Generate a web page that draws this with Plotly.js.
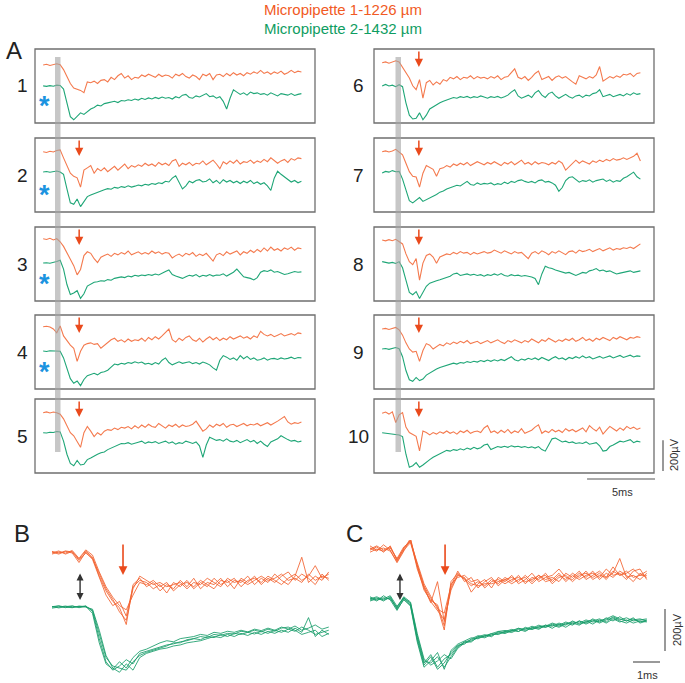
<!DOCTYPE html>
<html><head><meta charset="utf-8">
<script src="https://cdn.plot.ly/plotly-3.0.1.min.js"></script>
<style>html,body{margin:0;padding:0;background:#fff}#chart{width:685px;height:683px}</style>
</head><body><div id="chart"></div>
<script>
// ---------- DATA (µV relative to pre-stimulus baseline) ----------
// Panel A: samples every 0.25 ms from 0 ms
const A_DT = 0.25;
const P1_ORANGE=[0,5,-3,4,8,2,-30,-75,-120,-150,-155,-165,-180,-110,-115,-105,-120,-100,-95,-110,-80,-95,-70,-55,-85,-70,-95,-80,-85,-65,-75,-60,-70,-80,-60,-75,-65,-70,-85,-60,-70,-55,-75,-85,-65,-75,-95,-60,-70,-55,-95,-65,-60,-75,-55,-70,-50,-65,-55,-70,-50,-60,-45,-55,-35,-55,-45,-60,-45,-55,-40,-60,-50,-35,-50,-40,-45];
const P1_GREEN=[0,-3,2,-2,5,3,-20,-120,-200,-220,-200,-175,-185,-165,-150,-140,-125,-130,-115,-110,-105,-100,-108,-95,-98,-90,-95,-85,-92,-80,-88,-78,-85,-75,-82,-72,-80,-75,-85,-70,-78,-60,-55,-75,-80,-65,-72,-60,-50,-70,-65,-80,-70,-100,-150,-80,-25,-40,-55,-45,-60,-40,-50,-45,-55,-50,-60,-45,-55,-65,-50,-55,-60,-50,-62,-55,-50];
const P2_ORANGE=[0,-5,3,-2,8,12,-40,-95,-140,-160,-170,-230,-120,-105,-90,-140,-110,-125,-105,-130,-110,-95,-120,-100,-80,-110,-90,-100,-85,-95,-75,-90,-80,-95,-70,-85,-75,-90,-60,-50,-95,-75,-85,-70,-90,-75,-80,-60,-85,-70,-55,-80,-110,-65,-80,-60,-75,-55,-80,-65,-70,-55,-75,-60,-70,-50,-65,-40,-55,-75,-60,-50,-70,-45,-55,-40,-45];
const P2_GREEN=[0,3,-2,2,6,0,-15,-110,-200,-210,-175,-225,-195,-160,-150,-140,-130,-120,-115,-108,-112,-100,-105,-95,-100,-90,-98,-92,-85,-90,-80,-85,-75,-80,-70,-75,-60,-65,-40,-25,-70,-110,-90,-60,-70,-55,-50,-65,-60,-45,-70,-55,-75,-50,-65,-55,-70,-60,-75,-60,-70,-55,-75,-65,-80,-70,-90,-120,-40,5,-15,-30,-45,-65,-55,-70,-60];
const P3_ORANGE=[0,-5,3,-8,0,-20,-50,-95,-130,-175,-235,-200,-110,-85,-95,-130,-155,-120,-110,-100,-115,-95,-105,-90,-100,-80,-105,-95,-85,-100,-90,-100,-80,-95,-85,-100,-90,-95,-125,-110,-100,-115,-95,-105,-90,-115,-100,-110,-95,-120,-145,-105,-95,-110,-85,-100,-90,-80,-105,-85,-95,-75,-90,-70,-85,-60,-80,-55,-75,-65,-80,-60,-70,-55,-75,-60,-65];
const P3_GREEN=[0,2,-2,3,10,18,-40,-140,-205,-195,-180,-230,-200,-150,-135,-125,-122,-115,-118,-108,-112,-100,-95,-90,-95,-85,-90,-80,-85,-78,-82,-75,-80,-72,-78,-65,-55,-45,-75,-85,-95,-100,-90,-80,-85,-75,-90,-80,-85,-75,-85,-78,-80,-70,-85,-72,-60,-40,-65,-90,-95,-100,-110,-95,-60,-50,-55,-45,-60,-55,-65,-75,-70,-60,-55,-60,-58];
const P4_ORANGE=[0,3,-2,-15,-40,5,-60,-90,-120,-140,-225,-160,-120,-110,-105,-115,-110,-140,-120,-100,-85,-75,-95,-85,-100,-80,-95,-85,-90,-75,-95,-70,-85,-65,-80,-60,-35,-15,-85,-100,-75,-90,-70,-60,-85,-95,-75,-100,-80,-65,-85,-70,-90,-75,-85,-65,-80,-70,-60,-75,-65,-80,-60,-70,-30,-50,-60,-50,-65,-55,-45,-60,-50,-45,-55,-40,-45];
const P4_GREEN=[0,-3,2,0,-4,-2,-45,-110,-180,-210,-195,-225,-185,-160,-150,-145,-155,-140,-135,-125,-105,-85,-90,-80,-85,-75,-80,-70,-78,-72,-85,-80,-88,-75,-85,-60,-45,-75,-90,-80,-70,-80,-75,-70,-82,-75,-85,-72,-80,-90,-110,-125,-60,-30,-40,-55,-45,-60,-30,-50,-35,-55,-45,-60,-55,-45,-60,-50,-48,-55,-45,-52,-48,-40,-50,-42,-45];
const P5_ORANGE=[0,5,-2,4,0,-10,-40,-80,-130,-150,-185,-225,-130,-90,-120,-155,-130,-145,-120,-110,-115,-100,-110,-95,-100,-90,-105,-85,-100,-80,-95,-75,-90,-95,-70,-85,-100,-80,-90,-75,-95,-80,-90,-85,-75,-55,-90,-120,-105,-80,-95,-75,-85,-70,-95,-80,-75,-90,-80,-70,-85,-75,-80,-70,-85,-75,-65,-80,-70,-55,-40,-25,-60,-75,-65,-70,-60];
const P5_GREEN=[0,-2,3,1,8,5,-55,-140,-200,-215,-180,-210,-205,-175,-165,-150,-140,-130,-125,-110,-100,-90,-80,-70,-72,-65,-75,-70,-62,-55,-70,-60,-65,-58,-70,-62,-55,-68,-60,-75,-65,-70,-55,-62,-70,-60,-85,-160,-80,-30,-40,-50,-45,-55,-40,-55,-60,-50,-65,-55,-45,-60,-50,-70,-55,-75,-90,-60,-50,-40,-20,-35,-45,-55,-50,-60,-55];
const P6_ORANGE=[0,5,-3,2,12,5,-30,-60,-100,-150,-175,-110,-230,-130,-115,-145,-125,-140,-110,-120,-95,-105,-90,-110,-95,-100,-85,-105,-90,-100,-95,-105,-90,-100,-85,-110,-95,-90,-65,-40,-95,-105,-90,-115,-95,-70,-55,-110,-100,-90,-115,-95,-85,-100,-90,-110,-125,-140,-85,-95,-105,-90,-100,-80,-25,-120,-105,-90,-100,-85,-95,-75,-80,-70,-90,-70,-65];
const P6_GREEN=[0,10,0,5,-5,8,-5,-110,-190,-215,-210,-175,-220,-190,-150,-135,-120,-110,-100,-90,-85,-75,-80,-70,-75,-68,-78,-70,-75,-65,-72,-80,-70,-75,-68,-78,-70,-60,-40,-25,-65,-80,-70,-60,-75,-45,-30,-60,-75,-50,-40,-65,-80,-70,-55,-70,-80,-65,-60,-75,-60,-65,-50,-45,-25,-70,-60,-55,-70,-60,-55,-65,-50,-60,-45,-55,-50];
const P7_ORANGE=[0,5,-2,4,15,0,-20,-75,-130,-160,-165,-230,-140,-90,-100,-115,-160,-110,-105,-90,-100,-80,-90,-75,-85,-70,-90,-80,-65,-75,-85,-70,-80,-65,-75,-90,-70,-80,-65,-85,-70,-55,-80,-70,-85,-65,-80,-70,-75,-85,-70,-80,-60,-75,-120,-100,-80,-55,-75,-60,-70,-80,-60,-70,-55,-65,-50,-60,-45,-55,-50,-40,-50,-40,-30,-10,-60];
const P7_GREEN=[0,10,5,15,8,10,-40,-110,-180,-195,-175,-160,-185,-175,-165,-150,-140,-125,-118,-105,-98,-90,-80,-85,-70,-55,-75,-80,-65,-75,-68,-72,-65,-78,-70,-75,-60,-70,-55,-62,-50,-45,-55,-62,-55,-65,-50,-45,-60,-55,-65,-80,-120,-95,-50,-30,-25,-40,-60,-50,-55,-45,-60,-50,-45,-40,-55,-45,-60,-50,-55,-35,-25,-10,5,-25,-40];
const P8_ORANGE=[0,-5,3,-4,5,-10,-25,-90,-140,-160,-120,-260,-150,-100,-90,-110,-150,-110,-100,-90,-95,-80,-90,-75,-85,-80,-95,-80,-90,-85,-75,-85,-80,-65,-75,-85,-70,-80,-90,-75,-85,-80,-100,-120,-85,-75,-90,-70,-80,-95,-75,-85,-70,-80,-95,-75,-70,-85,-65,-75,-70,-60,-75,-65,-55,-70,-60,-50,-65,-55,-60,-50,-55,-45,-55,-40,-25];
const P8_GREEN=[0,-5,-10,-5,-12,0,-40,-120,-200,-215,-195,-240,-200,-160,-140,-130,-125,-118,-110,-100,-95,-80,-75,-90,-85,-80,-88,-82,-90,-85,-95,-85,-90,-80,-88,-78,-90,-95,-85,-92,-88,-95,-90,-95,-100,-110,-150,-80,-30,-40,-45,-55,-60,-65,-75,-70,-80,-90,-80,-70,-75,-60,-55,-45,-60,-55,-65,-60,-70,-80,-75,-70,-65,-60,-70,-65,-60];
const P9_ORANGE=[0,4,-3,5,10,-5,-40,-90,-130,-150,-145,-210,-140,-95,-105,-130,-115,-100,-110,-90,-100,-85,-95,-80,-90,-75,-95,-85,-80,-95,-85,-75,-90,-80,-70,-85,-95,-75,-85,-70,-80,-90,-75,-85,-65,-80,-90,-70,-80,-60,-75,-85,-70,-80,-65,-75,-60,-80,-70,-55,-75,-65,-80,-60,-70,-55,-65,-75,-55,-65,-50,-60,-70,-55,-60,-50,-55];
const P9_GREEN=[0,3,-2,5,10,2,-50,-140,-200,-210,-185,-205,-195,-170,-155,-140,-130,-120,-112,-105,-100,-92,-98,-88,-92,-82,-88,-80,-85,-75,-82,-72,-80,-70,-78,-68,-75,-60,-50,-70,-78,-65,-72,-60,-68,-58,-70,-55,-65,-75,-60,-50,-65,-58,-70,-55,-62,-50,-60,-45,-58,-50,-65,-55,-48,-60,-50,-45,-58,-50,-42,-55,-48,-40,-52,-45,-48];
const P10_ORANGE=[0,8,-5,10,-60,-10,5,-90,-125,-140,-150,-245,-115,-125,-140,-125,-135,-120,-130,-115,-130,-120,-135,-115,-125,-110,-130,-120,-115,-125,-95,-80,-125,-115,-130,-110,-125,-105,-130,-115,-125,-100,-130,-120,-110,-90,-75,-130,-115,-125,-105,-120,-110,-125,-100,-115,-105,-120,-110,-95,-120,-80,-100,-115,-90,-135,-110,-85,-100,-115,-95,-110,-85,-100,-90,-105,-95];
const P10_GREEN=[0,-3,-5,-8,-12,-15,-25,-140,-225,-215,-195,-225,-210,-190,-175,-160,-150,-135,-128,-115,-120,-110,-115,-105,-112,-100,-108,-95,-105,-98,-80,-75,-110,-100,-90,-95,-88,-95,-85,-92,-88,-95,-90,-98,-92,-100,-90,-110,-120,-80,-40,-35,-50,-60,-55,-65,-60,-70,-65,-70,-60,-75,-70,-65,-85,-120,-115,-90,-80,-70,-55,-60,-50,-45,-65,-55,-60];

// Panels B and C: overlaid sweeps, samples every 0.25 ms
const BC_DT = 0.25;
const B_ORANGE_1=[0,10,-5,8,-30,10,-20,-110,-180,-230,-260,-340,-150,-120,-160,-140,-180,-150,-170,-130,-160,-120,-170,-140,-150,-120,-160,-130,-140,-110,-150,-120,-140,-100,-130,-150,-110,-20,-140,-110,-130,-90];
const B_ORANGE_2=[5,-5,8,0,-45,5,-30,-120,-200,-250,-230,-300,-160,-130,-140,-170,-150,-190,-140,-160,-130,-170,-140,-160,-120,-150,-130,-170,-120,-140,-110,-150,-120,-140,-110,-90,-130,-100,-120,-150,-100,-130];
const B_ORANGE_3=[-5,5,0,12,-25,15,-10,-90,-160,-210,-250,-270,-200,-140,-150,-130,-160,-140,-180,-150,-140,-160,-130,-150,-170,-130,-140,-120,-160,-130,-120,-140,-110,-130,-150,-120,-100,-130,-110,-60,-120,-100];
const B_ORANGE_4=[8,0,10,5,-35,0,-25,-100,-170,-220,-280,-320,-170,-110,-130,-150,-140,-160,-150,-140,-170,-140,-150,-120,-140,-160,-120,-140,-130,-150,-130,-110,-130,-120,-100,-130,-120,-140,-100,-130,-110,-120];
const B_GREEN_1=[0,5,-3,4,0,6,-20,-150,-260,-300,-280,-250,-270,-220,-210,-200,-190,-180,-175,-165,-160,-150,-155,-140,-145,-130,-140,-125,-130,-120,-128,-115,-125,-110,-120,-105,-115,-95,-110,-130,-120,-110];
const B_GREEN_2=[-5,0,5,-2,3,0,-10,-110,-230,-290,-310,-270,-300,-240,-220,-210,-200,-195,-185,-180,-170,-165,-160,-150,-140,-145,-130,-140,-125,-135,-120,-130,-115,-125,-110,-120,-100,-120,-50,-140,-110,-130];
const B_GREEN_3=[3,-4,2,6,-3,4,-30,-170,-270,-295,-260,-290,-240,-210,-200,-185,-170,-160,-165,-150,-145,-140,-130,-135,-120,-125,-115,-120,-110,-118,-105,-112,-100,-110,-95,-105,-90,-110,-100,-85,-105,-95];
const B_GREEN_4=[2,6,0,-3,5,2,-15,-130,-240,-280,-290,-300,-260,-230,-215,-205,-195,-185,-170,-170,-155,-150,-140,-145,-130,-135,-125,-128,-115,-120,-110,-118,-105,-115,-100,-95,-110,-130,-120,-110,-140,-125];
const C_ORANGE_1=[0,15,-10,20,-50,10,45,-70,-170,-230,-270,-380,-150,-110,-140,-170,-150,-170,-140,-160,-130,-150,-120,-160,-130,-140,-110,-150,-120,-140,-110,-130,-100,-140,-120,-130,-110,-40,-130,-120,-140,-110];
const C_ORANGE_2=[10,-5,25,0,-60,-5,50,-90,-180,-250,-150,-340,-190,-120,-130,-200,-160,-140,-180,-130,-150,-120,-160,-140,-110,-150,-130,-120,-90,-130,-140,-110,-130,-100,-140,-110,-130,-100,-120,-150,-110,-130];
const C_ORANGE_3=[-10,5,-5,10,-40,15,40,-60,-160,-220,-280,-300,-170,-100,-150,-130,-180,-150,-130,-170,-140,-130,-150,-120,-150,-120,-140,-130,-150,-110,-130,-100,-140,-120,-100,-130,-80,-120,-100,-130,-120,-100];
const C_ORANGE_4=[20,0,10,-5,-55,0,35,-80,-190,-240,-260,-360,-160,-130,-120,-150,-140,-180,-150,-140,-160,-140,-130,-150,-140,-120,-150,-140,-110,-150,-120,-140,-120,-110,-130,-90,-120,-110,-140,-100,-90,-140];
const C_ORANGE_5=[5,20,0,15,-45,5,55,-75,-175,-245,-290,-330,-180,-115,-135,-160,-170,-160,-160,-150,-140,-160,-140,-130,-160,-130,-120,-160,-130,-120,-150,-120,-110,-130,-110,-140,-100,-120,-110,-90,-120,-120];
const C_GREEN_1=[0,10,-5,15,-40,10,-20,-180,-300,-260,-320,-280,-260,-220,-200,-190,-175,-180,-165,-160,-150,-155,-140,-150,-130,-140,-120,-135,-115,-130,-110,-120,-100,-115,-95,-110,-90,-105,-95,-110,-100,-105];
const C_GREEN_2=[10,-5,20,0,-50,5,-30,-200,-320,-290,-250,-330,-240,-210,-195,-180,-185,-170,-160,-165,-150,-140,-150,-135,-140,-125,-130,-115,-125,-110,-120,-100,-110,-90,-105,-85,-100,-80,-100,-90,-105,-95];
const C_GREEN_3=[-5,5,10,5,-35,15,-10,-160,-280,-310,-290,-260,-280,-230,-205,-195,-180,-170,-170,-155,-160,-145,-150,-130,-140,-130,-120,-125,-110,-120,-100,-115,-105,-95,-110,-95,-85,-100,-110,-95,-90,-100];
const C_GREEN_4=[5,15,0,10,-45,0,-25,-190,-310,-270,-330,-300,-250,-215,-210,-185,-170,-175,-160,-150,-155,-145,-135,-140,-125,-135,-125,-110,-120,-105,-115,-100,-115,-100,-90,-105,-80,-95,-85,-100,-95,-90];
const C_GREEN_5=[15,0,5,20,-30,10,-15,-170,-290,-300,-270,-320,-270,-225,-200,-200,-175,-165,-175,-150,-145,-150,-135,-145,-135,-120,-130,-120,-130,-115,-105,-110,-95,-105,-100,-90,-75,-90,-100,-85,-110,-100];

const PANEL_LABELS = ['1','2','3','4','5','6','7','8','9','10'];
const ORANGE_A = [P1_ORANGE,P2_ORANGE,P3_ORANGE,P4_ORANGE,P5_ORANGE,P6_ORANGE,P7_ORANGE,P8_ORANGE,P9_ORANGE,P10_ORANGE];
const GREEN_A  = [P1_GREEN,P2_GREEN,P3_GREEN,P4_GREEN,P5_GREEN,P6_GREEN,P7_GREEN,P8_GREEN,P9_GREEN,P10_GREEN];
const B_ORANGE = [B_ORANGE_1,B_ORANGE_2,B_ORANGE_3,B_ORANGE_4];
const B_GREEN  = [B_GREEN_1,B_GREEN_2,B_GREEN_3,B_GREEN_4];
const C_ORANGE = [C_ORANGE_1,C_ORANGE_2,C_ORANGE_3,C_ORANGE_4,C_ORANGE_5];
const C_GREEN  = [C_GREEN_1,C_GREEN_2,C_GREEN_3,C_GREEN_4,C_GREEN_5];

// ---------- LAYOUT / STYLE ----------
const W = 685, H = 683;
const px = v => v / W;
const py = v => 1 - v / H;
const COL_LEFT = [35, 374];
const BOX_TOP = [49, 138, 227, 315, 399];
const BOX_W = 280, BOX_H = 74;
const A_XR = [-0.6, 20.0], A_YR = [-331, 150];
// vertical placement of each trace (µV shift within its panel)
const A_SHIFT = [[46,-90],[61,-71],[74,-84],[74,-84],[61,-69],[61,-90],[61,-77],[65,-75],[59,-71],[57,-69]];
const COL_O_A = '#f47a4e', COL_G_A = '#1fa677';
const COL_O_BC = '#f2612f', COL_G_BC = '#179c6a';
const ARROW_RED = '#ea4a1c';
const FONT = 'Arial, "Liberation Sans", sans-serif';

const data = [], shapes = [], annotations = [];
const layout = {
  width: W, height: H, margin: {l:0, r:0, t:0, b:0},
  paper_bgcolor: '#fff', plot_bgcolor: 'rgba(0,0,0,0)',
  showlegend: false, shapes, annotations, font: {family: FONT}
};
const times = (arr, dt) => arr.map((_, i) => i * dt);
function axisName(n){ return n === 1 ? '' : String(n); }

for (let k = 0; k < 10; k++) {
  const n = k + 1, col = k < 5 ? 0 : 1, row = k % 5;
  const left = COL_LEFT[col], top = BOX_TOP[row];
  layout['xaxis' + axisName(n)] = {domain: [px(left), px(left + BOX_W)], range: A_XR, visible: false, fixedrange: true};
  layout['yaxis' + axisName(n)] = {domain: [py(top + BOX_H), py(top)], range: A_YR, visible: false, fixedrange: true};
  const ax = 'x' + axisName(n), ay = 'y' + axisName(n);
  data.push({x: times(ORANGE_A[k], A_DT), y: ORANGE_A[k].map(v => v + A_SHIFT[k][0]), xaxis: ax, yaxis: ay,
    mode: 'lines', line: {color: COL_O_A, width: 1.1}, hoverinfo: 'skip'});
  data.push({x: times(GREEN_A[k], A_DT), y: GREEN_A[k].map(v => v + A_SHIFT[k][1]), xaxis: ax, yaxis: ay,
    mode: 'lines', line: {color: COL_G_A, width: 1.1}, hoverinfo: 'skip'});
  shapes.push({type: 'rect', xref: 'paper', yref: 'paper', x0: px(left), x1: px(left + BOX_W), y0: py(top + BOX_H), y1: py(top),
    line: {color: '#6f6f6f', width: 1.3}, fillcolor: 'rgba(0,0,0,0)', layer: 'above'});
  annotations.push({xref: 'paper', yref: 'paper', x: px(col === 0 ? 22 : 358), y: py(top + 37), text: PANEL_LABELS[k],
    showarrow: false, xanchor: 'center', yanchor: 'middle', font: {size: 19, color: '#222', family: FONT}});
  if (k !== 0) {
    annotations.push({xref: ax, yref: 'paper', x: col === 0 ? 2.65 : 2.7, y: py(top + 18), ax: 0, ay: -17, text: '',
      showarrow: true, arrowhead: 2, arrowsize: 1.1, arrowwidth: 1.5, arrowcolor: ARROW_RED, standoff: 0});
  }
  if (k < 4) {
    annotations.push({xref: 'paper', yref: 'paper', x: px(44), y: py(top + 57), text: '<b>*</b>', showarrow: false,
      xanchor: 'center', yanchor: 'middle', font: {size: 27, color: '#1b93e0', family: FONT}});
  }
}
// grey stimulus-latency bars
[[55, 60.5], [395.5, 401]].forEach(([a, b]) => shapes.push({type: 'rect', xref: 'paper', yref: 'paper',
  x0: px(a), x1: px(b), y0: py(452), y1: py(57), line: {width: 0}, fillcolor: 'rgba(165,165,165,0.62)', layer: 'above'}));

// Panels B & C
const BC = [
  {n: 11, left: 38.5, orange: B_ORANGE, green: B_GREEN, shift: [-62, -319], arrowX: 2.63, dblX: 1.04},
  {n: 12, left: 356.5, orange: C_ORANGE, green: C_GREEN, shift: [-48, -285], arrowX: 2.78, dblX: 1.11}
];
const BC_XR = [-0.5, 10.8], BC_YR = [-680, 0], BC_PXMS = 27, BC_TOP = 540;
BC.forEach(p => {
  const right = p.left + (BC_XR[1] - BC_XR[0]) * BC_PXMS;
  layout['xaxis' + p.n] = {domain: [px(p.left), px(right)], range: BC_XR, visible: false, fixedrange: true};
  layout['yaxis' + p.n] = {domain: [0, py(BC_TOP)], range: BC_YR, visible: false, fixedrange: true};
  const ax = 'x' + p.n, ay = 'y' + p.n;
  p.orange.forEach(s => data.push({x: times(s, BC_DT), y: s.map(v => v + p.shift[0]), xaxis: ax, yaxis: ay,
    mode: 'lines', line: {color: COL_O_BC, width: 1}, opacity: 0.85, hoverinfo: 'skip'}));
  p.green.forEach(s => data.push({x: times(s, BC_DT), y: s.map(v => v + p.shift[1]), xaxis: ax, yaxis: ay,
    mode: 'lines', line: {color: COL_G_BC, width: 1}, opacity: 0.85, hoverinfo: 'skip'}));
  annotations.push({xref: ax, yref: 'paper', x: p.arrowX, y: py(575), ax: 0, ay: -32, text: '', showarrow: true,
    arrowhead: 2, arrowsize: 1.1, arrowwidth: 1.6, arrowcolor: ARROW_RED, standoff: 0});
  annotations.push({xref: ax, yref: 'paper', x: p.dblX, y: py(600), ax: 0, ay: -28, text: '', showarrow: true,
    arrowside: 'end+start', arrowhead: 2, startarrowhead: 2, arrowsize: 1, startarrowsize: 1, arrowwidth: 1.4,
    arrowcolor: '#333', standoff: 0, startstandoff: 0});
});

// scale bars
const A_PXMS = BOX_W / (A_XR[1] - A_XR[0]);
const A_PXUV = BOX_H / (A_YR[1] - A_YR[0]);
const BC_PXUV = (H - BC_TOP) / (BC_YR[1] - BC_YR[0]);
function line(x0, y0, x1, y1){ shapes.push({type: 'line', xref: 'paper', yref: 'paper', x0: px(x0), y0: py(y0), x1: px(x1), y1: py(y1), line: {color: '#555', width: 1.2}}); }
line(663, 471 - 200 * A_PXUV, 663, 471);
line(655 - 5 * A_PXMS, 479, 655, 479);
line(665, 651 - 200 * BC_PXUV, 665, 651);
line(660 - 1 * BC_PXMS, 662, 660, 662);
const txt = (x, y, t, size, color, extra) => annotations.push(Object.assign({xref: 'paper', yref: 'paper', x: px(x), y: py(y),
  text: t, showarrow: false, xanchor: 'center', yanchor: 'middle', font: {size, color, family: FONT}}, extra || {}));
txt(674, 455, '200µV', 11, '#333', {textangle: -90});
txt(622, 492, '5ms', 11, '#333');
txt(677, 630, '200µV', 11, '#333', {textangle: -90});
txt(647, 675, '1ms', 11, '#333');
// titles & panel letters
txt(343, 9, 'Micropipette 1-1226 µm', 15, '#f15a24');
txt(343, 28, 'Micropipette 2-1432 µm', 15, '#0f9d62');
txt(14, 51, 'A', 24, '#222');
txt(22, 533, 'B', 24, '#222');
txt(354, 533, 'C', 24, '#222');

Plotly.newPlot('chart', data, layout, {staticPlot: true, displayModeBar: false});
</script></body></html>
